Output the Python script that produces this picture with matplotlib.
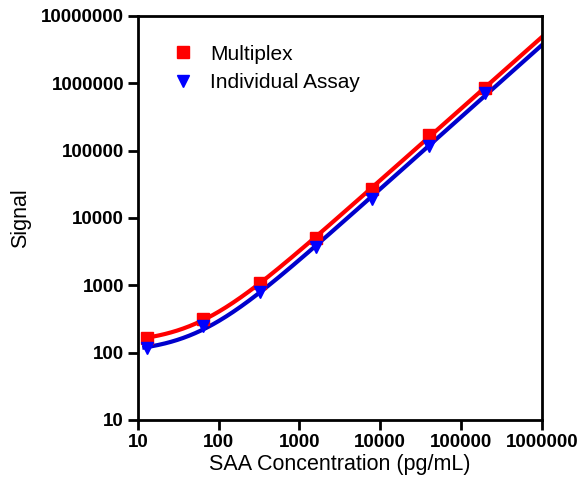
import numpy as np
import matplotlib.pyplot as plt

# SAA standard curve, 5-fold dilutions
conc = [12.8, 64, 320, 1600, 8000, 40000, 200000]
multiplex = [165, 318, 1090, 5000, 27000, 172000, 850000]
individual = [118, 250, 800, 3700, 19000, 115000, 710000]


def fit_curve(x, y):
    # y = bg + k * x^p, grid search on bg then log-log regression
    x = np.asarray(x, float)
    y = np.asarray(y, float)
    best = None
    for bg in np.linspace(0, 0.95 * y.min(), 300):
        p, lk = np.polyfit(np.log10(x), np.log10(y - bg), 1)
        pred = np.log10(bg + 10 ** lk * x ** p)
        err = np.sum((pred - np.log10(y)) ** 2)
        if best is None or err < best[0]:
            best = (err, bg, p, lk)
    _, bg, p, lk = best
    return lambda xx: bg + 10 ** lk * xx ** p


plt.rcParams['font.family'] = ['Liberation Sans', 'DejaVu Sans']

fig = plt.figure(figsize=(5.82, 4.8), dpi=100)
ax = fig.add_axes([0.237, 0.125, 0.694, 0.842])

xs = np.logspace(np.log10(12), 6, 400)
ax.plot(xs, fit_curve(conc, multiplex)(xs), color='#ff0000', lw=3, zorder=2)
ax.plot(xs, fit_curve(conc, individual)(xs), color='#0000cc', lw=3, zorder=2)
ax.plot(conc, multiplex, 's', color='#ff0000', ms=9, label='Multiplex', zorder=3)
ax.plot(conc, individual, 'v', color='#0000ff', ms=9, label='Individual Assay', zorder=3)

ax.set_xscale('log')
ax.set_yscale('log')
ax.set_xlim(10, 1e6)
ax.set_ylim(10, 1e7)
ax.set_xticks([10, 100, 1000, 10000, 100000, 1000000])
ax.set_xticklabels(['10', '100', '1000', '10000', '100000', '1000000'])
ax.set_yticks([10, 100, 1000, 10000, 100000, 1000000, 10000000])
ax.set_yticklabels(['10', '100', '1000', '10000', '100000', '1000000', '10000000'])
ax.minorticks_off()
ax.tick_params(direction='out', length=7, width=2, labelsize=13.5, pad=3)
for lab in ax.get_xticklabels() + ax.get_yticklabels():
    lab.set_fontweight('bold')
for sp in ax.spines.values():
    sp.set_linewidth(2)

ax.set_xlabel('SAA Concentration (pg/mL)', fontsize=15.5, labelpad=2)
ax.set_ylabel('Signal', fontsize=15.5, labelpad=7)

ax.legend(loc='upper left', bbox_to_anchor=(0.04, 0.975), frameon=False,
          fontsize=15, handlelength=1.0, handletextpad=0.8, labelspacing=0.45)

fig.savefig('out.png', dpi=100)
